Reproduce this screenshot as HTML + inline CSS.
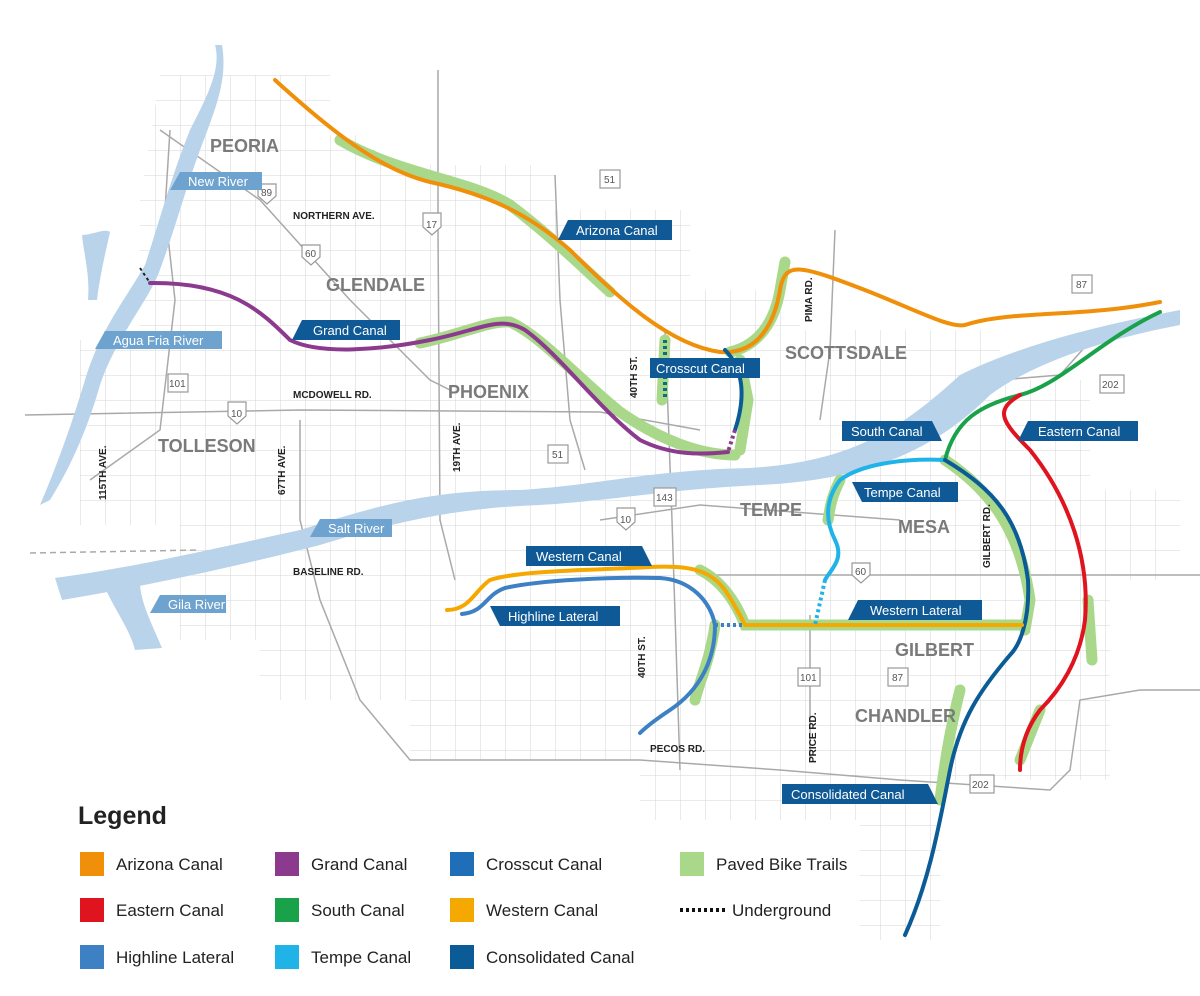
<!DOCTYPE html>
<html><head><meta charset="utf-8"><style>
html,body{margin:0;padding:0;background:#fff}
svg{display:block}
text{font-family:"Liberation Sans",sans-serif}
.city{font-weight:bold;fill:#7a7a7a;font-size:18px}
.road{font-weight:bold;fill:#222;font-size:10px}
.tag{fill:#fff;font-size:13px}
.lg{fill:#222;font-size:17px}
</style></head><body>
<svg width="1200" height="996" viewBox="0 0 1200 996" xmlns="http://www.w3.org/2000/svg">
<defs>
<pattern id="g" width="25" height="25" patternUnits="userSpaceOnUse" x="5" y="0">
<path d="M0 0H25M0 0V25" stroke="#d6d6d6" stroke-width="1" fill="none"/>
</pattern>
<clipPath id="cp"><polygon points="160,75 330,75 330,135 375,135 375,165 555,165 555,210 690,210 690,290 800,290 800,330 1000,330 1000,380 1090,380 1090,490 1180,490 1180,580 1110,580 1110,780 940,780 940,940 860,940 860,820 640,820 640,760 410,760 410,700 260,700 260,640 180,640 180,525 80,525 80,340 140,340 140,200"/></clipPath>
</defs>
<rect width="1200" height="996" fill="#fff"/>
<rect width="1200" height="996" fill="url(#g)" clip-path="url(#cp)"/>
<!-- major roads -->
<g stroke="#a9a9a9" stroke-width="1.5" fill="none">
<path d="M25 415 L300 410 L600 412 L700 430"/>
<path d="M600 520 L700 505 L900 520"/>
<path d="M700 575 L1200 575"/>
<path d="M438 70 L438 230 L440 520 L455 580"/>
<path d="M555 175 L560 300 L570 420 L585 470"/>
<path d="M665 330 L672 520 L680 770"/>
<path d="M810 615 L810 700 L810 760"/>
<path d="M300 420 L300 520 L320 600 L360 700 L410 760 L640 760 L780 770 L900 780 L1050 790 L1070 770 L1080 700 L1140 690 L1200 690"/>
<path d="M160 130 L260 200 L350 300 L430 380 L450 390"/>
<path d="M90 480 L160 430 L175 300 L165 210 L170 130"/>
<path d="M835 230 L830 350 L820 420"/>
<path d="M930 410 L1000 380 L1060 375 L1100 330"/>
<path d="M30 553 L200 550" stroke-dasharray="6,4"/>
</g>
<!-- rivers -->
<g fill="#b9d3ea">
<path d="M55 578 C130 568 200 552 300 530 C380 505 430 490 520 490 C600 485 650 470 750 468 C850 462 900 430 960 375 C1020 345 1100 325 1180 310 L1180 325 C1100 340 1030 365 990 395 C930 455 860 480 760 485 C660 490 620 500 540 505 C460 508 400 520 320 545 C230 568 150 585 62 600 Z"/>
<path d="M215 45 C222 70 205 100 190 130 C170 180 160 220 145 265 C125 300 100 330 85 380 C70 430 55 470 40 505 L50 500 C75 460 90 420 100 385 C115 340 145 305 158 275 C175 230 185 190 200 150 C215 110 228 80 222 45 Z"/>
<path d="M82 235 C92 235 105 228 110 232 C105 255 100 275 97 300 L88 300 C90 275 84 255 82 235 Z"/>
<path d="M105 588 C115 610 130 630 135 650 L162 648 C150 620 140 600 140 582 Z"/>
</g>
<!-- green bike trail underlays -->
<g stroke="#a9d88a" stroke-width="11" fill="none" stroke-linecap="round">
<path d="M340 140 C400 175 470 180 510 205 C550 235 580 265 610 292"/>
<path d="M730 352 C760 345 775 320 780 290 L785 262"/>
<path d="M420 343 C460 335 490 320 510 322 C540 335 580 380 620 412 C660 440 700 455 735 455"/>
<path d="M665 340 L662 400"/>
<path d="M740 360 L748 400 L740 450"/>
<path d="M945 460 C990 490 1020 530 1030 600 L1025 630"/>
<path d="M960 690 C950 730 945 760 940 800"/>
<path d="M700 570 C720 580 735 600 745 625 L1025 625"/>
<path d="M715 625 C710 660 700 680 695 700"/>
<path d="M840 480 C830 500 830 510 828 520"/>
<path d="M1088 600 L1092 660"/>
<path d="M1040 710 L1020 760"/>
</g>
<!-- canals -->
<g fill="none" stroke-width="4" stroke-linecap="round">
<path stroke="#f0900a" d="M275 80 C330 130 380 170 430 182 C490 195 530 215 570 250 C620 300 670 345 720 352 C760 355 775 320 780 290 C785 260 800 265 870 292 C920 312 950 328 965 325 C1010 310 1080 318 1160 302"/>
<path stroke="#8b3a8e" d="M150 283 C230 282 260 310 290 340 C320 355 380 350 430 340 C480 330 500 315 525 330 C560 355 600 410 640 440 C670 455 700 455 728 452"/>
<path stroke="#0b5c96" d="M725 350 C745 370 745 400 735 430"/>
<path stroke="#19a24a" d="M1160 312 C1100 340 1060 385 1020 395 C980 405 955 420 945 460"/>
<path stroke="#e0141e" d="M1020 395 C995 410 1000 420 1030 450 C1070 500 1090 560 1085 620 C1080 660 1060 690 1040 710 C1025 730 1020 750 1020 770"/>
<path stroke="#1fb3e8" d="M945 460 C900 458 860 465 840 480 C825 500 825 520 835 540 C845 560 830 570 825 580"/>
<path stroke="#0b5c96" d="M945 460 C995 490 1020 520 1028 580 C1030 620 1020 645 1010 655 C980 690 960 720 950 770 C940 820 930 880 905 935"/>
<path stroke="#f5a800" d="M447 610 C470 610 475 590 490 580 C520 570 600 570 650 567 C690 565 710 570 725 590 C735 605 740 615 745 625 L1022 625"/>
<path stroke="#3d80c4" d="M462 614 C485 612 485 595 505 588 C540 580 610 577 660 578 C690 580 710 600 715 625 C715 660 700 690 670 710 C655 720 645 728 640 733"/>
</g>
<g fill="none" stroke-width="4" stroke-dasharray="3,3">
<path stroke="#0b6f7f" d="M665 340 L665 400"/>
<path stroke="#8b3a8e" d="M735 430 L728 452"/>
<path stroke="#1fb3e8" d="M825 580 L815 625"/>
<path stroke="#3d80c4" d="M715 625 L745 625"/>
<path stroke="#222" stroke-width="2" d="M140 268 L150 283"/>
</g>
<!-- city names -->
<text class="city" x="210" y="152">PEORIA</text>
<text class="city" x="326" y="291">GLENDALE</text>
<text class="city" x="448" y="398">PHOENIX</text>
<text class="city" x="158" y="452">TOLLESON</text>
<text class="city" x="785" y="359">SCOTTSDALE</text>
<text class="city" x="740" y="516">TEMPE</text>
<text class="city" x="898" y="533">MESA</text>
<text class="city" x="895" y="656">GILBERT</text>
<text class="city" x="855" y="722">CHANDLER</text>
<!-- roads -->
<text class="road" x="293" y="219">NORTHERN AVE.</text>
<text class="road" x="293" y="398">MCDOWELL RD.</text>
<text class="road" x="293" y="575">BASELINE RD.</text>
<text class="road" x="650" y="752">PECOS RD.</text>
<text class="road" transform="translate(106,500) rotate(-90)">115TH AVE.</text>
<text class="road" transform="translate(285,495) rotate(-90)">67TH AVE.</text>
<text class="road" transform="translate(460,472) rotate(-90)">19TH AVE.</text>
<text class="road" transform="translate(637,398) rotate(-90)">40TH ST.</text>
<text class="road" transform="translate(645,678) rotate(-90)">40TH ST.</text>
<text class="road" transform="translate(812,322) rotate(-90)">PIMA RD.</text>
<text class="road" transform="translate(816,763) rotate(-90)">PRICE RD.</text>
<text class="road" transform="translate(990,568) rotate(-90)">GILBERT RD.</text>
<!-- shields -->
<g fill="#fff" stroke="#999" stroke-width="1.2" font-size="10" font-family="Liberation Sans">
<rect x="600" y="170" width="20" height="18"/><text x="604" y="183" stroke="none" fill="#555">51</text>
<rect x="548" y="445" width="20" height="18"/><text x="552" y="458" stroke="none" fill="#555">51</text>
<rect x="168" y="374" width="20" height="18"/><text x="169" y="387" stroke="none" fill="#555">101</text>
<rect x="798" y="668" width="22" height="18"/><text x="800" y="681" stroke="none" fill="#555">101</text>
<rect x="888" y="668" width="20" height="18"/><text x="892" y="681" stroke="none" fill="#555">87</text>
<rect x="1072" y="275" width="20" height="18"/><text x="1076" y="288" stroke="none" fill="#555">87</text>
<rect x="1100" y="375" width="24" height="18"/><text x="1102" y="388" stroke="none" fill="#555">202</text>
<rect x="970" y="775" width="24" height="18"/><text x="972" y="788" stroke="none" fill="#555">202</text>
<rect x="654" y="488" width="22" height="18"/><text x="656" y="501" stroke="none" fill="#555">143</text>
<path d="M258 184 h18 v12 l-9 8 l-9 -8z"/><text x="261" y="196" stroke="none" fill="#555">89</text>
<path d="M302 245 h18 v12 l-9 8 l-9 -8z"/><text x="305" y="257" stroke="none" fill="#555">60</text>
<path d="M852 563 h18 v12 l-9 8 l-9 -8z"/><text x="855" y="575" stroke="none" fill="#555">60</text>
<path d="M423 213 h18 v14 l-9 8 l-9 -8z"/><text x="426" y="228" stroke="none" fill="#555">17</text>
<path d="M228 402 h18 v14 l-9 8 l-9 -8z"/><text x="231" y="417" stroke="none" fill="#555">10</text>
<path d="M617 508 h18 v14 l-9 8 l-9 -8z"/><text x="620" y="523" stroke="none" fill="#555">10</text>
</g>
<!-- tags -->
<g>
<polygon fill="#6ea3cf" points="180,172 262,172 262,190 170,190"/><text class="tag" x="188" y="186">New River</text>
<polygon fill="#6ea3cf" points="105,331 222,331 222,349 95,349"/><text class="tag" x="113" y="345">Agua Fria River</text>
<polygon fill="#6ea3cf" points="320,519 392,519 392,537 310,537"/><text class="tag" x="328" y="533">Salt River</text>
<polygon fill="#6ea3cf" points="160,595 226,595 226,613 150,613"/><text class="tag" x="168" y="609">Gila River</text>
<polygon fill="#0f5a96" points="568,220 672,220 672,240 558,240"/><text class="tag" x="576" y="235">Arizona Canal</text>
<polygon fill="#0f5a96" points="302,320 400,320 400,340 292,340"/><text class="tag" x="313" y="335">Grand Canal</text>
<polygon fill="#0f5a96" points="650,358 760,358 760,378 650,378"/><text class="tag" x="656" y="373">Crosscut Canal</text>
<polygon fill="#0f5a96" points="842,421 932,421 942,441 842,441"/><text class="tag" x="851" y="436">South Canal</text>
<polygon fill="#0f5a96" points="1028,421 1138,421 1138,441 1018,441"/><text class="tag" x="1038" y="436">Eastern Canal</text>
<polygon fill="#0f5a96" points="852,482 958,482 958,502 862,502"/><text class="tag" x="864" y="497">Tempe Canal</text>
<polygon fill="#0f5a96" points="526,546 642,546 652,566 526,566"/><text class="tag" x="536" y="561">Western Canal</text>
<polygon fill="#0f5a96" points="490,606 620,606 620,626 500,626"/><text class="tag" x="508" y="621">Highline Lateral</text>
<polygon fill="#0f5a96" points="858,600 982,600 982,620 848,620"/><text class="tag" x="870" y="615">Western Lateral</text>
<polygon fill="#0f5a96" points="782,784 928,784 938,804 782,804"/><text class="tag" x="791" y="799">Consolidated Canal</text>
</g>
<!-- legend -->
<text x="78" y="824" font-size="25" font-weight="bold" fill="#222">Legend</text>
<g>
<rect x="80" y="852" width="24" height="24" fill="#f0900a"/><text class="lg" x="116" y="870">Arizona Canal</text>
<rect x="80" y="898" width="24" height="24" fill="#e0141e"/><text class="lg" x="116" y="916">Eastern Canal</text>
<rect x="80" y="945" width="24" height="24" fill="#3d80c4"/><text class="lg" x="116" y="963">Highline Lateral</text>
<rect x="275" y="852" width="24" height="24" fill="#8b3a8e"/><text class="lg" x="311" y="870">Grand Canal</text>
<rect x="275" y="898" width="24" height="24" fill="#19a24a"/><text class="lg" x="311" y="916">South Canal</text>
<rect x="275" y="945" width="24" height="24" fill="#1fb3e8"/><text class="lg" x="311" y="963">Tempe Canal</text>
<rect x="450" y="852" width="24" height="24" fill="#1f6fb8"/><text class="lg" x="486" y="870">Crosscut Canal</text>
<rect x="450" y="898" width="24" height="24" fill="#f5a800"/><text class="lg" x="486" y="916">Western Canal</text>
<rect x="450" y="945" width="24" height="24" fill="#0b5c96"/><text class="lg" x="486" y="963">Consolidated Canal</text>
<rect x="680" y="852" width="24" height="24" fill="#a9d88a"/><text class="lg" x="716" y="870">Paved Bike Trails</text>
<line x1="680" y1="910" x2="726" y2="910" stroke="#111" stroke-width="4" stroke-dasharray="3,3"/><text class="lg" x="732" y="916">Underground</text>
</g>
</svg>
</body></html>
